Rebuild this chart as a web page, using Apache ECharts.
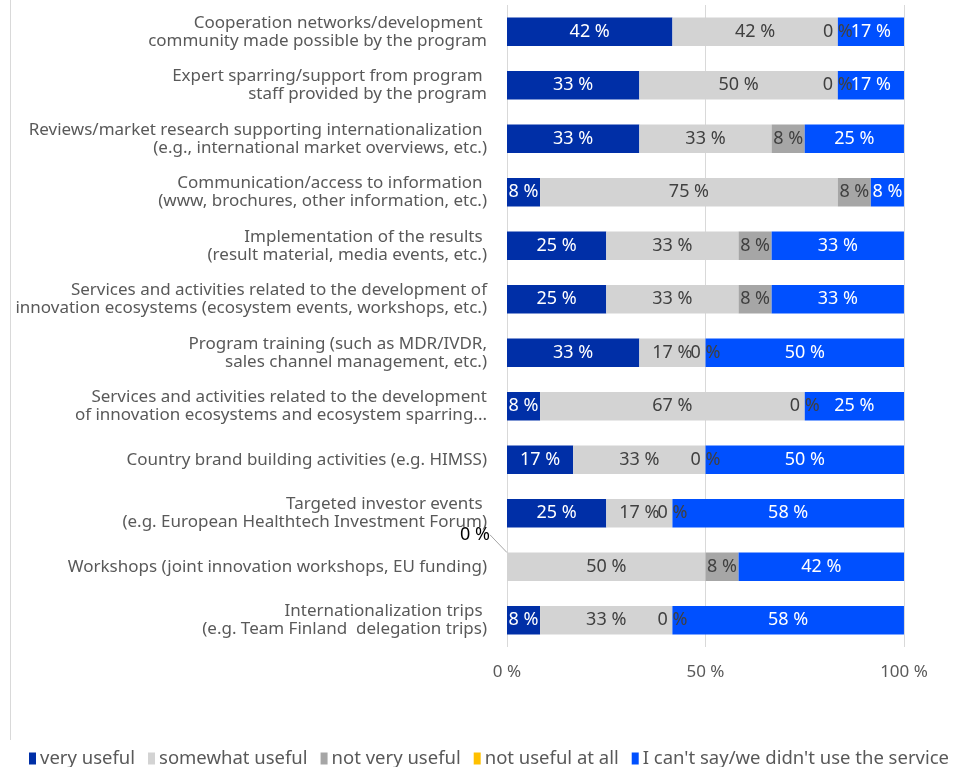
<!DOCTYPE html>
<html>
<head>
<meta charset="utf-8">
<script src="https://cdn.jsdelivr.net/npm/echarts@6/dist/echarts.min.js"></script>
<style>
  html, body { margin: 0; padding: 0; background: #ffffff; }
  #chart { width: 960px; height: 767px; }
</style>
</head>
<body>
<div id="chart"></div>
<script>
// Services, top to bottom
const categories = [
  'Cooperation networks/development \ncommunity made possible by the program',
  'Expert sparring/support from program \nstaff provided by the program',
  'Reviews/market research supporting internationalization \n(e.g., international market overviews, etc.)',
  'Communication/access to information \n(www, brochures, other information, etc.)',
  'Implementation of the results \n(result material, media events, etc.)',
  'Services and activities related to the development of\ninnovation ecosystems (ecosystem events, workshops, etc.)',
  'Program training (such as MDR/IVDR,\nsales channel management, etc.)',
  'Services and activities related to the development\nof innovation ecosystems and ecosystem sparring...',
  'Country brand building activities (e.g. HIMSS)',
  'Targeted investor events \n(e.g. European Healthtech Investment Forum)',
  'Workshops (joint innovation workshops, EU funding)',
  'Internationalization trips \n(e.g. Team Finland  delegation trips)'
];

// Share of respondents (%), one array per answer option
const veryUseful      = [41.67, 33.33, 33.33, 8.33, 25, 25, 33.33, 8.33, 16.67, 25, 0, 8.33];
const somewhatUseful  = [41.67, 50, 33.33, 75, 33.33, 33.33, 16.67, 66.67, 33.33, 16.67, 50, 33.33];
const notVeryUseful   = [0, 0, 8.33, 8.33, 8.33, 8.33, 0, 0, 0, 0, 8.33, 0];
const notUsefulAtAll  = [null, null, null, null, null, null, null, null, null, null, null, null];
const cantSay         = [16.67, 16.67, 25, 8.33, 33.33, 33.33, 50, 25, 50, 58.33, 41.67, 58.33];

const seriesNames = ['very useful', 'somewhat useful', 'not very useful', 'not useful at all', "I can't say/we didn't use the service"];
const xTicks = [0, 50, 100];

const FONT = '"Noto Sans", sans-serif';
const fmt = p => (p.value == null ? '' : Math.round(p.value) + ' %');

function barSeries(name, data, color, labelColor) {
  return {
    name: name,
    type: 'bar',
    stack: 'total',
    barWidth: '53%',
    data: data,
    itemStyle: { color: color },
    label: {
      show: true,
      position: 'inside',
      formatter: fmt,
      color: labelColor,
      fontFamily: FONT,
      fontSize: 18
    }
  };
}

const s0 = barSeries(seriesNames[0], veryUseful.map((v, i) => {
  // the empty "very useful" value for Workshops gets a callout label
  if (i === 10) {
    return { value: v, label: { color: '#000000' }, labelLine: { show: true, lineStyle: { color: '#a6a6a6', width: 1 } } };
  }
  return v;
}), '#002fa7', '#ffffff');
s0.labelLayout = function (p) {
  if (p.dataIndex === 10) return { dx: -32, dy: -32 };
  return {};
};

const chart = echarts.init(document.getElementById('chart'), null, { renderer: 'canvas' });

chart.setOption({
  animation: false,
  backgroundColor: '#ffffff',
  grid: { left: 507, right: 56, top: 5, bottom: 120, containLabel: false, outerBoundsMode: 'none' },
  xAxis: {
    type: 'value',
    min: 0,
    max: 100,
    interval: 50,
    axisLine: { show: false },
    axisTick: { show: false },
    splitLine: { show: true, lineStyle: { color: '#d9d9d9', width: 1 } },
    axisLabel: {
      formatter: v => (xTicks.indexOf(v) >= 0 ? v + ' %' : ''),
      color: '#595959',
      fontFamily: FONT,
      fontSize: 17,
      margin: 17
    }
  },
  yAxis: {
    type: 'category',
    inverse: true,
    data: categories,
    axisLine: { show: false },
    axisTick: { show: false },
    axisLabel: {
      color: '#595959',
      fontFamily: FONT,
      fontSize: 17,
      lineHeight: 18,
      margin: 20
    }
  },
  legend: {
    left: 24,
    top: 744,
    itemWidth: 7,
    itemHeight: 12,
    itemGap: 13,
    icon: 'rect',
    textStyle: { color: '#595959', fontFamily: FONT, fontSize: 18.5, padding: [0, 0, 0, -1] },
    data: seriesNames
  },
  graphic: [{
    type: 'line',
    shape: { x1: 10.5, y1: 0, x2: 10.5, y2: 740 },
    style: { stroke: '#d9d9d9', lineWidth: 1 },
    silent: true
  }],
  series: [
    s0,
    barSeries(seriesNames[1], somewhatUseful, '#d3d3d3', '#404040'),
    barSeries(seriesNames[2], notVeryUseful, '#a6a6a6', '#404040'),
    barSeries(seriesNames[3], notUsefulAtAll, '#ffc000', '#404040'),
    barSeries(seriesNames[4], cantSay, '#0050ff', '#ffffff')
  ]
});
</script>
</body>
</html>
